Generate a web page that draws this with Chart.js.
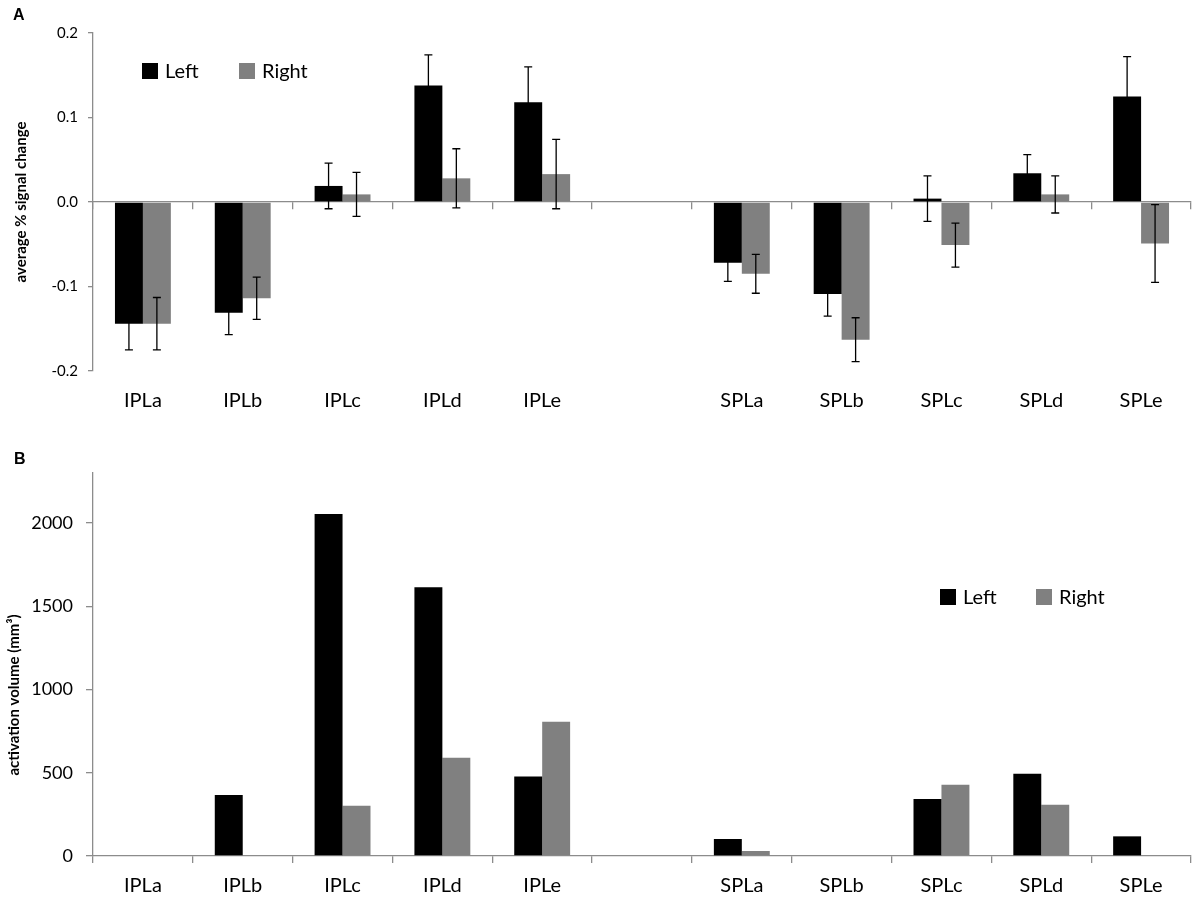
<!DOCTYPE html>
<html><head><meta charset="utf-8">
<script src="https://cdn.jsdelivr.net/npm/chart.js@4.4.1/dist/chart.umd.min.js"></script>
<style>
html,body{margin:0;padding:0;background:#fff;overflow:hidden;}
#wrapA{position:absolute;left:0;top:0;width:1200px;height:425px;}
#wrapB{position:absolute;left:0;top:425px;width:1200px;height:474px;}
canvas{display:block;}
</style></head><body>
<div id="wrapA"><canvas id="cA" width="1200" height="425"></canvas></div>
<div id="wrapB"><canvas id="cB" width="1200" height="474"></canvas></div>
<script>
// ---------- DATA ----------
const categories = ['IPLa','IPLb','IPLc','IPLd','IPLe','','SPLa','SPLb','SPLc','SPLd','SPLe'];
const seriesNames = ['Left','Right'];

// Panel A: average % signal change
const signalLeft     = [-0.144, -0.131, 0.019, 0.138, 0.118, null, -0.072, -0.109, 0.004, 0.034, 0.125];
const signalRight    = [-0.144, -0.114, 0.009, 0.028, 0.033, null, -0.085, -0.163, -0.051, 0.009, -0.049];
const signalLeftErr  = [0.031, 0.026, 0.027, 0.036, 0.042, null, 0.022, 0.026, 0.027, 0.022, 0.047];
const signalRightErr = [0.031, 0.025, 0.026, 0.035, 0.041, null, 0.023, 0.026, 0.026, 0.022, 0.046];
const signalTicks    = [-0.2, -0.1, 0.0, 0.1, 0.2];

// Panel B: activation volume (mm3)
const volumeLeft  = [0, 366, 2054, 1614, 478, null, 102, 0, 342, 494, 118];
const volumeRight = [0, 0, 302, 590, 806, null, 30, 0, 428, 308, 0];
const volumeTicks = [0, 500, 1000, 1500, 2000];

// ---------- STYLE ----------
const COL_LEFT = '#000000';
const COL_RIGHT = '#808080';
const AXIS_COL = '#8c8c8c';
Chart.defaults.font.family = 'Lato, "Open Sans", sans-serif';
Chart.defaults.color = '#000';

const errorBarPlugin = {
  id: 'errorBars',
  afterDatasetsDraw(chart) {
    const ctx = chart.ctx, yScale = chart.scales.y;
    chart.data.datasets.forEach((ds, i) => {
      if (!ds.errors) return;
      const meta = chart.getDatasetMeta(i);
      meta.data.forEach((bar, j) => {
        const v = ds.data[j], e = ds.errors[j];
        if (v == null || e == null) return;
        const x = bar.x;
        const y1 = yScale.getPixelForValue(v + e), y2 = yScale.getPixelForValue(v - e);
        ctx.save();
        ctx.strokeStyle = '#000'; ctx.lineWidth = 1.3;
        ctx.beginPath();
        ctx.moveTo(x, y1); ctx.lineTo(x, y2);
        ctx.moveTo(x - 4, y1); ctx.lineTo(x + 4, y1);
        ctx.moveTo(x - 4, y2); ctx.lineTo(x + 4, y2);
        ctx.stroke();
        ctx.restore();
      });
    });
  }
};

const overlayPlugin = {
  id: 'overlay',
  afterDraw(chart, args, o) {
    const ctx = chart.ctx;
    ctx.save();
    // panel letter
    ctx.fillStyle = '#000';
    ctx.font = 'bold 16px "Liberation Sans", Arial, sans-serif';
    ctx.textBaseline = 'alphabetic'; ctx.textAlign = 'left';
    ctx.fillText(o.letter, o.letterX, o.letterY);
    // y title
    ctx.save();
    ctx.translate(o.titleX, o.titleY);
    ctx.rotate(-Math.PI / 2);
    ctx.font = 'bold 15px Lato, sans-serif';
    ctx.textAlign = 'center'; ctx.textBaseline = 'middle';
    ctx.fillText(o.title, 0, 0);
    ctx.restore();
    // legend
    ctx.font = '20px Lato, sans-serif';
    ctx.textAlign = 'left'; ctx.textBaseline = 'middle';
    chart.data.datasets.forEach((ds, i) => {
      const bx = o.legendX[i];
      ctx.fillStyle = ds.backgroundColor;
      ctx.fillRect(bx, o.legendY - 8, 16, 16);
      ctx.fillStyle = '#000';
      ctx.fillText(ds.label, bx + 23, o.legendY + 1);
    });
    ctx.restore();
  }
};

function fixedTicks(arr) {
  return function(scale) { scale.ticks = arr.map(v => ({ value: v })); };
}

// ---------- CHART A ----------
new Chart(document.getElementById('cA'), {
  type: 'bar',
  data: {
    labels: categories,
    datasets: [
      { label: seriesNames[0], data: signalLeft, errors: signalLeftErr, backgroundColor: COL_LEFT, xAxisID: 'x', yAxisID: 'y' },
      { label: seriesNames[1], data: signalRight, errors: signalRightErr, backgroundColor: COL_RIGHT, xAxisID: 'x', yAxisID: 'y' }
    ]
  },
  options: {
    responsive: false, animation: false, devicePixelRatio: 1,
    categoryPercentage: 0.56, barPercentage: 1.0,
    layout: { padding: { left: 0, top: 33, right: 9, bottom: 0 } },
    plugins: {
      legend: { display: false }, tooltip: { enabled: false },
      overlay: { letter: 'A', letterX: 13, letterY: 20, title: 'average % signal change', titleX: 21, titleY: 202,
                 legendX: [142, 239], legendY: 71 }
    },
    scales: {
      x: {
        type: 'category', axis: 'x', position: { y: 0 }, offset: true,
        grid: { display: true, offset: true, drawOnChartArea: false, drawTicks: true, tickLength: 7, color: AXIS_COL, lineWidth: 1.3 },
        border: { display: true, color: AXIS_COL, width: 1.3 },
        ticks: { display: false }
      },
      x2: {
        type: 'category', axis: 'x', position: 'bottom', offset: true,
        grid: { display: false, drawTicks: false },
        border: { display: false },
        ticks: { padding: 18, font: { size: 20 }, maxRotation: 0, autoSkip: false },
        afterFit(scale) { scale.height = 54; }
      },
      y: {
        type: 'linear', position: 'left', min: -0.2, max: 0.2,
        afterBuildTicks: fixedTicks(signalTicks),
        grid: { display: true, drawOnChartArea: false, drawTicks: true, tickLength: 5, color: AXIS_COL, lineWidth: 1.3 },
        border: { display: true, color: AXIS_COL, width: 1.3 },
        ticks: { padding: 10, font: { size: 15 }, callback: v => v.toFixed(1) },
        afterFit(scale) { scale.width = 93; }
      }
    }
  },
  plugins: [errorBarPlugin, overlayPlugin]
});

// ---------- CHART B ----------
new Chart(document.getElementById('cB'), {
  type: 'bar',
  data: {
    labels: categories,
    datasets: [
      { label: seriesNames[0], data: volumeLeft, backgroundColor: COL_LEFT },
      { label: seriesNames[1], data: volumeRight, backgroundColor: COL_RIGHT }
    ]
  },
  options: {
    responsive: false, animation: false, devicePixelRatio: 1,
    categoryPercentage: 0.56, barPercentage: 1.0,
    layout: { padding: { left: 0, top: 48, right: 9, bottom: 0 } },
    plugins: {
      legend: { display: false }, tooltip: { enabled: false },
      overlay: { letter: 'B', letterX: 14, letterY: 39, title: 'activation volume (mm³)', titleX: 14, titleY: 270,
                 legendX: [940, 1036], legendY: 172 }
    },
    scales: {
      x: {
        type: 'category', position: 'bottom', offset: true,
        grid: { display: true, offset: true, drawOnChartArea: false, drawTicks: true, tickLength: 7, color: AXIS_COL, lineWidth: 1.3 },
        border: { display: true, color: AXIS_COL, width: 1.3 },
        ticks: { padding: 11, font: { size: 20 }, maxRotation: 0, autoSkip: false },
        afterFit(scale) { scale.height = 43; }
      },
      y: {
        type: 'linear', position: 'left', min: 0, max: 2300,
        afterBuildTicks: fixedTicks(volumeTicks),
        grid: { display: true, drawOnChartArea: false, drawTicks: true, tickLength: 7, color: AXIS_COL, lineWidth: 1.3 },
        border: { display: true, color: AXIS_COL, width: 1.3 },
        ticks: { padding: 13, font: { size: 18 }, callback: v => String(v) },
        afterFit(scale) { scale.width = 93; }
      }
    }
  },
  plugins: [errorBarPlugin, overlayPlugin]
});
</script>
</body></html>
